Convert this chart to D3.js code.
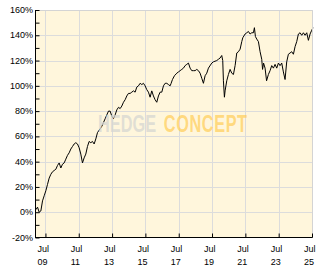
<!DOCTYPE html>
<html>
<head>
<meta charset="utf-8">
<script src="https://cdn.jsdelivr.net/npm/d3@7"></script>
<style>
  body { margin: 0; background: #fff; }
  svg { display: block; }
</style>
</head>
<body>
<div id="chart"></div>
<script>
// performance in % (decimal year / value)
const years = [2008.92, 2009.02, 2009.12, 2009.22, 2009.32, 2009.42, 2009.52, 2009.62, 2009.72, 2009.82,
  2009.92, 2010.02, 2010.12, 2010.22, 2010.32, 2010.42, 2010.52, 2010.62, 2010.72, 2010.82,
  2010.92, 2011.02, 2011.12, 2011.22, 2011.32, 2011.42, 2011.52, 2011.62, 2011.72, 2011.82,
  2011.92, 2012.02, 2012.12, 2012.22, 2012.32, 2012.42, 2012.52, 2012.62, 2012.78, 2012.88,
  2012.98, 2013.08, 2013.18, 2013.28, 2013.38, 2013.48, 2013.58, 2013.68, 2013.78, 2013.88,
  2013.98, 2014.08, 2014.18, 2014.28, 2014.38, 2014.48, 2014.58, 2014.68, 2014.78, 2014.88,
  2014.98, 2015.08, 2015.18, 2015.28, 2015.38, 2015.48, 2015.58, 2015.68, 2015.78, 2015.88,
  2015.98, 2016.08, 2016.18, 2016.28, 2016.38, 2016.48, 2016.58, 2016.68, 2016.78, 2016.88,
  2016.98, 2017.04, 2017.12, 2017.24, 2017.38, 2017.48, 2017.58, 2017.68, 2017.78, 2017.88,
  2017.98, 2018.08, 2018.18, 2018.28, 2018.38, 2018.48, 2018.58, 2018.68, 2018.78, 2018.88,
  2018.98, 2019.08, 2019.18, 2019.28, 2019.48, 2019.58, 2019.78, 2019.88, 2019.98, 2020.08,
  2020.14, 2020.18, 2020.24, 2020.28, 2020.38, 2020.48, 2020.58, 2020.68, 2020.78, 2020.88,
  2020.98, 2021.08, 2021.18, 2021.28, 2021.34, 2021.48, 2021.58, 2021.68, 2021.78, 2021.88,
  2021.98, 2022.04, 2022.10, 2022.18, 2022.28, 2022.38, 2022.48, 2022.53, 2022.59, 2022.68,
  2022.77, 2022.88, 2022.98, 2023.08, 2023.18, 2023.28, 2023.38, 2023.48, 2023.58, 2023.68,
  2023.78, 2023.88, 2023.98, 2024.08, 2024.18, 2024.28, 2024.38, 2024.48, 2024.58, 2024.68,
  2024.78, 2024.88, 2024.98, 2025.08, 2025.18, 2025.28, 2025.38, 2025.48, 2025.56];
const values = [2, 4, 0, 1, 9, 13, 17, 22, 27, 30,
  32, 33, 34, 37, 39, 35, 38, 39, 42, 45,
  47, 50, 52, 54, 55, 54, 51, 46, 39, 43,
  46, 52, 56, 55, 56, 54, 58, 63, 66, 68,
  71, 74, 77, 80, 80, 76, 74, 77, 81, 83,
  82, 84, 87, 89, 92, 94, 94, 95, 96, 95,
  99, 100, 102, 101, 102, 100, 97, 95, 91, 96,
  92, 89, 87, 92, 95, 95, 100, 102, 102, 101,
  100, 102, 105, 108, 110, 111, 112, 113, 114, 116,
  117, 118, 114, 112, 112, 112, 113, 112, 110, 106,
  102, 108, 110, 114, 118, 119, 120, 121, 122, 124,
  120, 104, 91, 96, 104, 109, 113, 110, 109, 116,
  126, 127, 129, 135, 138, 141, 142, 143, 141, 142,
  142, 146, 139, 137, 135, 127, 121, 113, 118, 114,
  104, 109, 112, 116, 114, 117, 114, 118, 116, 118,
  111, 105, 119, 125, 126, 127, 125, 131, 135, 141,
  142, 140, 142, 140, 142, 136, 141, 144, 146];

const yTicks = [-20, 0, 20, 40, 60, 80, 100, 120, 140, 160];
const xTickYears = [2009, 2011, 2013, 2015, 2017, 2019, 2021, 2023, 2025];
const xTickMonth = "Jul";

const width = 332, height = 269;
const plot = { left: 35, right: 312, top: 10, bottom: 237.5 };

function yearToDate(t) {
  const yr = Math.floor(t);
  const a = new Date(yr, 0, 1), b = new Date(yr + 1, 0, 1);
  return new Date(+a + (t - yr) * (b - a));
}

const data = years.map((t, i) => ({ date: yearToDate(t), v: values[i] }));

const x = d3.scaleTime()
  .domain([new Date(2008, 10, 14), new Date(2025, 6, 1)])
  .range([plot.left, plot.right]);

const y = d3.scaleLinear()
  .domain([-20, 160])
  .range([plot.bottom, plot.top]);

const svg = d3.select("#chart").append("svg")
  .attr("width", width)
  .attr("height", height)
  .attr("viewBox", [0, 0, width, height]);

svg.append("rect")
  .attr("x", plot.left).attr("y", plot.top)
  .attr("width", plot.right - plot.left).attr("height", plot.bottom - plot.top)
  .attr("fill", "#fff6dc");

const tickDates = xTickYears.map(yr => new Date(yr, 6, 1));

// grid
svg.append("g")
  .attr("stroke", "#dcdcdc")
  .attr("stroke-width", 1)
  .call(g => g.selectAll("line.h")
    .data(yTicks.slice(1))
    .join("line")
      .attr("class", "h")
      .attr("x1", plot.left).attr("x2", plot.right)
      .attr("y1", d => Math.round(y(d)) + 0.5)
      .attr("y2", d => Math.round(y(d)) + 0.5))
  .call(g => g.selectAll("line.v")
    .data(tickDates)
    .join("line")
      .attr("class", "v")
      .attr("x1", d => Math.round(x(d)) + 0.5)
      .attr("x2", d => Math.round(x(d)) + 0.5)
      .attr("y1", plot.top).attr("y2", plot.bottom));

// the line
const line = d3.line()
  .x(d => x(d.date))
  .y(d => y(d.v));

svg.append("path")
  .datum(data)
  .attr("fill", "none")
  .attr("stroke", "#000")
  .attr("stroke-width", 1)
  .attr("stroke-linejoin", "round")
  .attr("d", line);

// watermark on top, one text squeezed horizontally
const wm = svg.append("text")
  .attr("transform", "translate(98,132) scale(0.71,1)")
  .style("font-family", "'Liberation Sans', Arial, sans-serif")
  .style("font-weight", "bold")
  .style("font-size", "23px");
wm.append("tspan")
  .attr("fill", "#d6d6d2").attr("fill-opacity", 0.75)
  .text("HEDGE");
wm.append("tspan")
  .attr("dx", 11)
  .attr("fill", "#ffcc55").attr("fill-opacity", 0.7)
  .style("letter-spacing", "0.8px")
  .text("CONCEPT");

// frame: gray top/right, black axes left/bottom
svg.append("path")
  .attr("d", `M${plot.left},${plot.top + 0.5}H${plot.right + 0.5}V${plot.bottom}`)
  .attr("fill", "none").attr("stroke", "#d4d4d4");

const fontStyle = g => g
  .style("font-family", "'Liberation Sans', Arial, sans-serif")
  .style("font-size", "9px")
  .attr("fill", "#000");

// y axis
svg.append("g")
  .attr("transform", `translate(${plot.left + 0.5},0)`)
  .call(d3.axisRight(y).tickValues(d3.range(-20, 161, 10)).tickSize(4).tickFormat(""))
  .call(g => g.selectAll("line, path").attr("stroke", "#000"))
  .call(g => g.select(".domain").attr("d", `M0,${plot.top}V${plot.bottom}`));

svg.append("g")
  .call(fontStyle)
  .selectAll("text")
  .data(yTicks)
  .join("text")
    .attr("x", 33)
    .attr("y", d => y(d))
    .attr("dy", "0.34em")
    .attr("text-anchor", "end")
    .text(d => d + "%");

// x axis
svg.append("g")
  .attr("transform", `translate(0,${plot.bottom})`)
  .call(d3.axisTop(x).tickValues(tickDates).tickSize(4).tickFormat(""))
  .call(g => g.selectAll("line, path").attr("stroke", "#000"))
  .call(g => g.select(".domain").attr("d", `M${plot.left},0H${plot.right + 0.5}`));

const xl = svg.append("g")
  .call(fontStyle)
  .selectAll("text")
  .data(xTickYears)
  .join("text")
    .attr("x", d => x(new Date(d, 6, 1)) - 8)
    .attr("y", 251.5);
xl.append("tspan").text(xTickMonth);
xl.append("tspan")
  .attr("x", d => x(new Date(d, 6, 1)) - 8)
  .attr("dy", 13)
  .text(d => String(d % 100).padStart(2, "0"));
</script>
</body>
</html>
